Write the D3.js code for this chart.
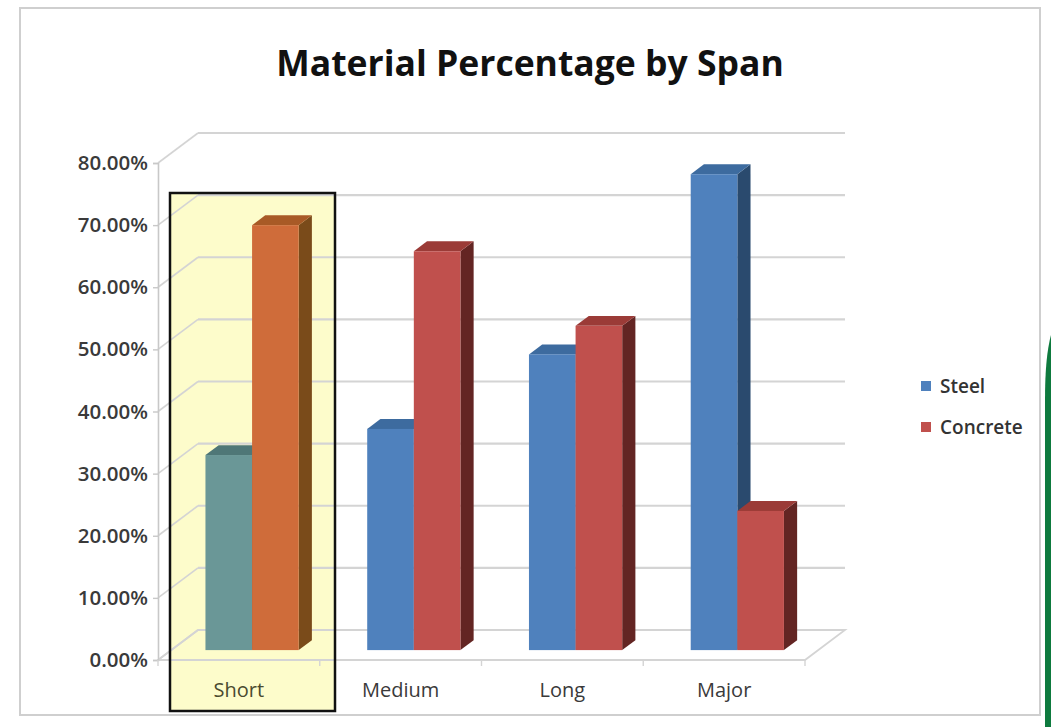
<!DOCTYPE html>
<html>
<head>
<meta charset="utf-8">
<script src="https://cdn.jsdelivr.net/npm/d3@7"></script>
<style>
  html, body { margin: 0; padding: 0; background: #ffffff; }
  svg { display: block; }
  text { font-family: "Open Sans", "DejaVu Sans", sans-serif; }
</style>
</head>
<body>
<svg id="chart" width="1051" height="727"></svg>
<script>
// ---- data ----
const categories = ["Short", "Medium", "Long", "Major"];
const seriesNames = ["Steel", "Concrete"];
const steelValues = [0.314, 0.356, 0.476, 0.766];
const concreteValues = [0.684, 0.642, 0.522, 0.224];
const yTickValues = [0, 0.1, 0.2, 0.3, 0.4, 0.5, 0.6, 0.7, 0.8];
const titleText = "Material Percentage by Span";
const highlightCategory = "Short";

// ---- styling ----
const colors = {
  Steel:    { front: "#4f81bd", top: "#3d6b9f", side: "#2a4a6e" },
  Concrete: { front: "#c0504d", top: "#9b3b37", side: "#632523" }
};
const highlightColors = {
  Steel:    { front: "#6a9797", top: "#4f7777", side: "#3d5c5c" },
  Concrete: { front: "#cf6c3a", top: "#a85a26", side: "#7a4b1a" }
};

const svg = d3.select("#chart");

// outer frame
svg.append("rect").attr("x", 20).attr("y", 8).attr("width", 1020).attr("height", 707)
  .attr("fill", "#ffffff").attr("stroke", "#cfcfcf").attr("stroke-width", 2);

// green sliver at right edge
svg.append("path")
  .attr("d", "M1051,335 C1047,350 1045,370 1045,400 L1045,727 L1051,727 Z")
  .attr("fill", "#0e7a3e");

// ---- geometry ----
const plotLeft = 158, plotRight = 805;
const depth = { dx: 40, dy: -30 };     // wall depth
const barF0 = 0.33, barF1 = 0.66;      // bar depth fraction range

const x = d3.scaleBand().domain(categories).range([plotLeft, plotRight]).padding(0);
const xs = d3.scaleBand().domain(seriesNames).range([0, x.bandwidth()]).paddingInner(0).paddingOuter(0.735);
const y = d3.scaleLinear().domain([0, 0.8]).range([660, 163]);

const data = categories.map((c, i) => ({
  cat: c,
  vals: [
    { s: "Steel", v: steelValues[i] },
    { s: "Concrete", v: concreteValues[i] }
  ]
}));

// highlight box fill
const hx0 = 170, hx1 = 335, hy0 = 193, hy1 = 711;
svg.append("rect").attr("x", hx0).attr("y", hy0).attr("width", hx1 - hx0).attr("height", hy1 - hy0)
  .attr("fill", "#fdfccb");

const grid = svg.append("g");
const gridColor = "#d4d4d4";

// floor
const fl = [
  [plotLeft, y(0)], [plotRight, y(0)],
  [plotRight + depth.dx, y(0) + depth.dy], [plotLeft + depth.dx, y(0) + depth.dy]
];
grid.append("path").attr("d", "M" + fl.map(p => p.join(",")).join("L") + "Z")
  .attr("fill", "none").attr("stroke", gridColor).attr("stroke-width", 1.8);

// back-wall gridlines + side-wall diagonals
yTickValues.forEach(t => {
  const yf = y(t), yb = y(t) + depth.dy;
  if (t > 0) {
    grid.append("line").attr("x1", plotLeft + depth.dx).attr("x2", plotRight + depth.dx)
      .attr("y1", yb).attr("y2", yb).attr("stroke", gridColor).attr("stroke-width", 2.2);
  }
  grid.append("line").attr("x1", plotLeft).attr("y1", yf).attr("x2", plotLeft + depth.dx).attr("y2", yb)
    .attr("stroke", gridColor).attr("stroke-width", 1.6);
});

// y axis
const yAxis = d3.axisLeft(y).tickValues(yTickValues).tickFormat(d3.format(".2%")).tickSize(5).tickPadding(5);
const gy = svg.append("g").attr("transform", `translate(${plotLeft},0)`).call(yAxis);
gy.select(".domain").attr("stroke", "#c8c8c8").attr("stroke-width", 1.6);
gy.selectAll(".tick line").attr("stroke", "#c8c8c8").attr("stroke-width", 1.4);
gy.selectAll(".tick text").attr("fill", "#3a3a3a").attr("font-size", 20.5).attr("font-weight", 600)
  .attr("font-family", "'Open Sans', sans-serif");

// x axis
const xAxis = d3.axisBottom(x).tickSize(0).tickPadding(23);
const gx = svg.append("g").attr("transform", `translate(0,${y(0)})`).call(xAxis);
gx.select(".domain").remove();
gx.selectAll(".tick text").attr("fill", d => d === highlightCategory ? "#4a4a30" : "#3a3a3a")
  .attr("font-size", 20).attr("font-family", "'Open Sans', sans-serif");
// category boundary ticks
const bounds = categories.map(c => x(c)).concat([plotRight]);
svg.append("g").selectAll("line").data(bounds).join("line")
  .attr("x1", d => d).attr("x2", d => d).attr("y1", y(0)).attr("y2", y(0) + 6)
  .attr("stroke", gridColor).attr("stroke-width", 1.4);

// ---- 3D bars ----
const bars = svg.append("g");
const offX0 = depth.dx * barF0, offY0 = depth.dy * barF0;
const bdx = depth.dx * (barF1 - barF0), bdy = depth.dy * (barF1 - barF0);

data.forEach(d => {
  d.vals.forEach(b => {
    const pal = d.cat === highlightCategory ? highlightColors[b.s] : colors[b.s];
    const xl = x(d.cat) + xs(b.s) + offX0;
    const xr = xl + xs.bandwidth();
    const yb = y(0) + offY0;
    const yt = y(b.v) + offY0;
    const g = bars.append("g");
    // side face
    g.append("path").attr("d", `M${xr},${yt} L${xr + bdx},${yt + bdy} L${xr + bdx},${yb + bdy} L${xr},${yb} Z`)
      .attr("fill", pal.side);
    // top face
    g.append("path").attr("d", `M${xl},${yt} L${xr},${yt} L${xr + bdx},${yt + bdy} L${xl + bdx},${yt + bdy} Z`)
      .attr("fill", pal.top);
    // front face
    g.append("rect").attr("x", xl).attr("y", yt).attr("width", xr - xl).attr("height", yb - yt)
      .attr("fill", pal.front);
  });
});

// highlight box border
svg.append("rect").attr("x", hx0).attr("y", hy0).attr("width", hx1 - hx0).attr("height", hy1 - hy0)
  .attr("fill", "none").attr("stroke", "#111111").attr("stroke-width", 2.5);

// title
svg.append("text").attr("x", 530).attr("y", 76).attr("text-anchor", "middle")
  .attr("font-size", 35.5).attr("font-weight", 700).attr("fill", "#111111")
  .text(titleText);

// legend
const legend = svg.append("g").attr("transform", "translate(921,386)");
seriesNames.forEach((s, i) => {
  const gi = legend.append("g").attr("transform", `translate(0,${i * 41})`);
  gi.append("rect").attr("x", 0).attr("y", -5).attr("width", 10).attr("height", 10).attr("fill", colors[s].front);
  gi.append("text").attr("x", 19).attr("y", 0).attr("dy", "0.35em")
    .attr("font-size", 19).attr("font-weight", 600).attr("fill", "#333333").text(s);
});
</script>
</body>
</html>
